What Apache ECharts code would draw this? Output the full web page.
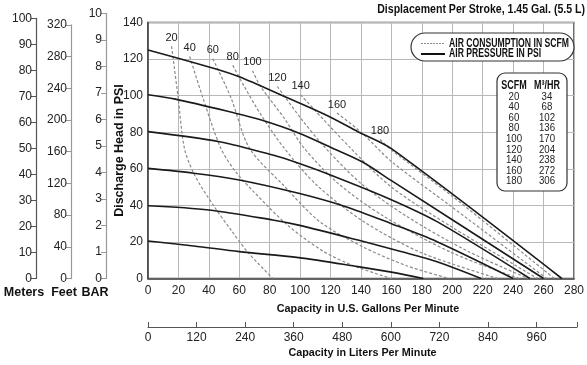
<!DOCTYPE html>
<html><head><meta charset="utf-8">
<script src="https://cdn.jsdelivr.net/npm/echarts@6/dist/echarts.min.js"></script>
<style>html,body{margin:0;padding:0;background:#fff}#c{width:587px;height:365px}</style>
</head><body><div id="c"></div>
<script>
// ---------- data ----------
const titleText = 'Displacement Per Stroke, 1.45 Gal. (5.5 L)';
const legendNames = ['AIR CONSUMPTION IN SCFM', 'AIR PRESSURE IN PSI'];
const gpmTicks = [0,20,40,60,80,100,120,140,160,180,200,220,240,260,280];
const psiTicks = [0,20,40,60,80,100,120,140];
const lpmTicks = [0,120,240,360,480,600,720,840,960];
const meterTicks = [0,10,20,30,40,50,60,70,80,90,100];
const feetTicks = [0,40,80,120,160,200,240,280,320];
const barTicks = [0,1,2,3,4,5,6,7,8,9,10];

// air pressure curves (gpm, psi)
const psi20  = [[0,20.5],[30,17.8],[60,14.7],[99,11.4],[138,6.5],[160,3.5],[181,0]];
const psi40  = [[0,39.8],[40,37.5],[82,32],[99,29.2],[138,21],[165,15],[190,9.2],[219,0]];
const psi60  = [[0,60.2],[30,57.6],[60,53.9],[99,46.6],[130,39.3],[160,30],[190,20.1],[240,0]];
const psi80  = [[0,80.3],[47,74.8],[82,67.5],[99,63],[120,56.6],[158,43.8],[190,31.1],[251,0]];
const psi100 = [[0,100.5],[18,98.1],[55,90.9],[74,86.8],[99,79.6],[121,71.4],[141,63.7],[160,53.5],[260,0]];
const psi120 = [[0,125],[43,115],[60,110.3],[90,99.4],[117,89.4],[138,80.3],[160,71],[272,0]];
const pressureCurves = [psi20, psi40, psi60, psi80, psi100, psi120];

// air consumption curves (gpm, psi)
const scfm20  = [[15.5,127],[19.8,99],[24,71],[31,56],[43,40],[55,26],[66,14],[82,0]];
const scfm40  = [[27.4,121.5],[36,99],[48,71],[58,58],[70,47],[92,29],[115,15],[135,7],[160,0]];
const scfm60  = [[42.6,120.2],[54.6,98.7],[66.6,71.4],[89,51],[113,31],[142,17],[170,7],[198,0]];
const scfm80  = [[55.7,116.6],[63.3,105],[74.2,89.6],[89.4,71.4],[111,51],[142,31],[180,14],[230,0]];
const scfm100 = [[68.7,113.6],[74,105],[89.4,87.8],[102.5,71.4],[125,52],[155,34],[200,14],[244,0]];
const scfm120 = [[85,105],[100.3,87.8],[116.6,71.4],[140,52],[170,34],[210,15],[250,0]];
const scfm140 = [[100.3,100.5],[133,71.4],[160,50],[200,28],[256,0]];
const scfm160 = [[124.2,90.5],[140.6,79.6],[160,64],[200,39],[262,0]];
const scfm180 = [[152.5,76],[160,70.3],[200,45],[267,0]];
const scfmCurves = [scfm20, scfm40, scfm60, scfm80, scfm100, scfm120, scfm140, scfm160, scfm180];
const scfmLabels = ['20','40','60','80','100','120','140','160','180'];

// conversion table
const tableHead = ['SCFM', 'M³/HR'];
const tableScfm = ['20','40','60','80','100','120','140','160','180'];
const tableM3hr = ['34','68','102','136','170','204','238','272','306'];
const unitNames = ['Meters', 'Feet', 'BAR'];

// ---------- layout ----------
const FONT = '"Liberation Sans",Arial,sans-serif';
const W = 587, H = 365;
const PLOT_L = 148, PLOT_R = 577, PLOT_T = 22.5, PLOT_B = 278.5;
const pxPerPsi = (PLOT_B - PLOT_T) / 140;
const PSI_PER_M = 1.42233, PSI_PER_FT = 0.43353, PSI_PER_BAR = 14.5038;
const LPM_PER_GPM = 3.785411784;

function sideGrid(x, maxVal, psiPer) {
  const hpx = maxVal * psiPer * pxPerPsi;
  return {left: x, width: 1, top: PLOT_B - hpx, bottom: H - PLOT_B};
}
const txt = {fontFamily: FONT, color: '#222'};

const series = [];
pressureCurves.forEach((d) => {
  series.push({
    name: legendNames[1], type: 'line', xAxisIndex: 0, yAxisIndex: 0,
    data: d, smooth: 0.3, symbol: 'none', z: 5,
    lineStyle: {color: '#1a1a1a', width: 1.6}, itemStyle: {color: '#1a1a1a'}
  });
});
scfmCurves.forEach((d, i) => {
  const data = d.map((p, j) => j === 0 ? {value: p, label: {show: true, position: 'top', distance: 3,
      formatter: scfmLabels[i], fontFamily: FONT, fontSize: 11, color: '#222'}} : p);
  series.push({
    name: legendNames[0], type: 'line', xAxisIndex: 0, yAxisIndex: 0,
    data: data, smooth: 0.3, symbol: 'circle', symbolSize: 0, showSymbol: true, showAllSymbol: true, z: 4,
    label: {show: false},
    lineStyle: {color: '#8a8a8a', width: 1.2, type: [3, 2]}, itemStyle: {color: '#8a8a8a'}
  });
});

// ---------- graphics: title, legend box, table, unit names ----------
const g = [];
g.push({type: 'text', x: 585, y: 10, scaleX: 0.88, z: 20,
  style: {text: titleText, font: 'bold 12px ' + FONT, fill: '#111', align: 'right', verticalAlign: 'middle'}});
// legend box
g.push({type: 'rect', shape: {x: 411, y: 33, width: 163, height: 28, r: 14},
  style: {fill: '#fff', stroke: '#333', lineWidth: 1.2}, z: 10});
g.push({type: 'line', shape: {x1: 421, y1: 43.5, x2: 445, y2: 43.5},
  style: {stroke: '#8a8a8a', lineWidth: 1.2, lineDash: [2, 1]}, z: 11});
g.push({type: 'line', shape: {x1: 421, y1: 54, x2: 445, y2: 54},
  style: {stroke: '#111', lineWidth: 2}, z: 11});
legendNames.forEach((t, i) => g.push({type: 'text', x: 449, y: 43.5 + i * 10.5, scaleX: 0.72, z: 11,
  style: {text: t, font: 'bold 12px ' + FONT, fill: '#111', align: 'left', verticalAlign: 'middle'}}));
// table
g.push({type: 'rect', shape: {x: 497, y: 73, width: 70, height: 118, r: 8},
  style: {fill: '#fff', stroke: '#333', lineWidth: 1.2}, z: 10});
const colX = [514, 547];
tableHead.forEach((t, i) => g.push({type: 'text', x: colX[i], y: 86, scaleX: 0.75, z: 11,
  style: {text: t, font: 'bold 12px ' + FONT, fill: '#111', align: 'center', verticalAlign: 'middle'}}));
tableScfm.forEach((v, i) => {
  g.push({type: 'text', x: colX[0], y: 96.5 + i * 10.6, scaleX: 0.88, z: 11,
    style: {text: v, font: '11px ' + FONT, fill: '#222', align: 'center', verticalAlign: 'middle'}});
  g.push({type: 'text', x: colX[1], y: 96.5 + i * 10.6, scaleX: 0.88, z: 11,
    style: {text: tableM3hr[i], font: '11px ' + FONT, fill: '#222', align: 'center', verticalAlign: 'middle'}});
});
const unitX = [24, 64, 95];
unitNames.forEach((t, i) => g.push({type: 'text', x: unitX[i], y: 293,
  style: {text: t, font: 'bold 12.5px ' + FONT, fill: '#111', align: 'center', verticalAlign: 'middle'}}));

const sideAxis = (gi, max, interval, ticks, color) => ({
  gridIndex: gi, type: 'value', position: 'left', min: 0, max: max, interval: interval,
  axisLine: {show: true, lineStyle: {color: color, width: 1.2}},
  axisTick: {show: true, length: 5, lineStyle: {color: color}, customValues: ticks},
  splitLine: {show: false},
  axisLabel: Object.assign({fontSize: 12, margin: 4, customValues: ticks}, txt)
});

const option = {
  animation: false,
  grid: [
    {left: PLOT_L, right: W - PLOT_R, top: PLOT_T, bottom: H - PLOT_B, show: true, borderColor: '#444', borderWidth: 1.5},
    {left: PLOT_L, right: W - PLOT_R, top: 326, height: 1},
    sideGrid(36, 100, PSI_PER_M),
    sideGrid(71, 320, PSI_PER_FT),
    sideGrid(106, 10, PSI_PER_BAR)
  ],
  xAxis: [
    {gridIndex: 0, type: 'value', min: 0, max: 280, interval: 20,
      name: 'Capacity in U.S. Gallons Per Minute', nameLocation: 'middle', nameGap: 25,
      nameTextStyle: {fontFamily: FONT, fontSize: 10.8, fontWeight: 'bold', color: '#111', padding: [0, 0, 0, 14]},
      axisLine: {show: true, lineStyle: {color: '#444', width: 1.5}}, axisTick: {show: false},
      axisLabel: Object.assign({fontSize: 12, margin: 6, customValues: gpmTicks}, txt),
      splitLine: {show: true, lineStyle: {color: '#b8b8b8', width: 1}}},
    {gridIndex: 1, type: 'value', min: 0, max: 280 * LPM_PER_GPM, position: 'bottom',
      name: 'Capacity in Liters Per Minute', nameLocation: 'middle', nameGap: 21,
      nameTextStyle: {fontFamily: FONT, fontSize: 10.8, fontWeight: 'bold', color: '#111'},
      axisLine: {show: true, lineStyle: {color: '#555', width: 1.2}},
      axisTick: {show: true, inside: true, length: 5, lineStyle: {color: '#555'}, customValues: lpmTicks.concat([280 * LPM_PER_GPM])},
      axisLabel: Object.assign({fontSize: 12, margin: 5, customValues: lpmTicks}, txt),
      splitLine: {show: false}},
    {gridIndex: 2, show: false, type: 'value'},
    {gridIndex: 3, show: false, type: 'value'},
    {gridIndex: 4, show: false, type: 'value'}
  ],
  yAxis: [
    {gridIndex: 0, type: 'value', min: 0, max: 140, interval: 20,
      name: 'Discharge Head in PSI', nameLocation: 'middle', nameGap: 22, nameRotate: 90, nameMoveOverlap: false,
      nameTextStyle: {fontFamily: FONT, fontSize: 12.5, fontWeight: 'bold', color: '#111'},
      axisLine: {show: true, lineStyle: {color: '#444', width: 1.5}}, axisTick: {show: false},
      axisLabel: Object.assign({fontSize: 12, margin: 5, customValues: psiTicks}, txt),
      splitLine: {show: true, lineStyle: {color: '#b8b8b8', width: 1}}},
    {gridIndex: 1, show: false, type: 'value'},
    sideAxis(2, 100, 10, meterTicks, '#555'),
    sideAxis(3, 320, 40, feetTicks, '#999'),
    sideAxis(4, 10, 1, barTicks, '#999')
  ],
  graphic: g,
  series: series
};
const chart = echarts.init(document.getElementById('c'), null, {renderer: 'canvas'});
chart.setOption(option);
</script></body></html>
